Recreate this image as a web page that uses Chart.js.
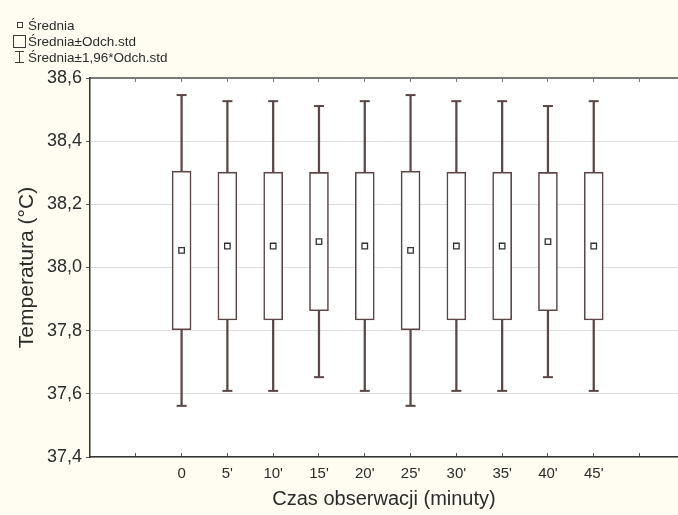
<!DOCTYPE html>
<html lang="pl">
<head>
<meta charset="utf-8">
<title>Temperatura a czas obserwacji</title>
<script src="https://cdn.jsdelivr.net/npm/chart.js@4.4.1/dist/chart.umd.min.js"></script>
<style>
    html, body { margin: 0; padding: 0; background: #fffcf2; }
    canvas { display: block; }
</style>
</head>
<body>
<canvas id="chartTemp" width="678" height="515"></canvas>
<script>
// Czas obserwacji (kategorie osi X)
var categories = ['0', "5'", "10'", "15'", "20'", "25'", "30'", "35'", "40'", "45'"];
// Srednia temperatura i odchylenie standardowe dla kazdego pomiaru
var means = [38.054, 38.068, 38.068, 38.082, 38.068, 38.054, 38.068, 38.068, 38.082, 38.068];
var stdDevs = [0.251, 0.234, 0.234, 0.219, 0.234, 0.251, 0.234, 0.234, 0.219, 0.234];
var whiskerFactor = 1.96;
// Podzialka osi
var yTickValues = [37.4, 37.6, 37.8, 38.0, 38.2, 38.4, 38.6];
var xTickValues = [-1, 0, 1, 2, 3, 4, 5, 6, 7, 8, 9, 10];

var TEXT = '#2b2b2b';
var BOX = '#5c4646';
var FONT = '"Liberation Sans", Arial, sans-serif';

(function () {
    var el = document.getElementById('chartTemp');

    var boxData = [];
    var whiskerData = [];
    var capData = [];
    var meanData = [];
    for (var i = 0; i < categories.length; i++) {
        var m = means[i], s = stdDevs[i];
        boxData.push({ x: i, y: [m - s, m + s] });
        whiskerData.push({ x: i, y: [m - whiskerFactor * s, m + whiskerFactor * s] });
        capData.push({ x: i, y: m - whiskerFactor * s });
        capData.push({ x: i, y: m + whiskerFactor * s });
        meanData.push({ x: i, y: m });
    }

    // tlo wykresu + legenda w lewym gornym rogu
    var framePlugin = {
        id: 'frame',
        beforeDraw: function (chart) {
            var ctx = chart.ctx, a = chart.chartArea;
            ctx.save();
            ctx.fillStyle = '#fffcf2';
            ctx.fillRect(0, 0, chart.width, chart.height);
            ctx.fillStyle = '#ffffff';
            ctx.fillRect(a.left, a.top, a.right - a.left, a.bottom - a.top);
            ctx.restore();
        },
        afterDraw: function (chart) {
            var ctx = chart.ctx;
            ctx.save();
            ctx.strokeStyle = '#3a3a3a';
            ctx.lineWidth = 1;
            ctx.fillStyle = TEXT;
            ctx.font = '13.5px ' + FONT;
            ctx.textBaseline = 'alphabetic';

            ctx.strokeRect(17.5, 22.5, 5, 5);
            ctx.fillText('Średnia', 28, 30);

            ctx.strokeRect(13.5, 35.5, 12, 12);
            ctx.fillText('Średnia±Odch.std', 28, 46);

            ctx.beginPath();
            ctx.moveTo(19.5, 51); ctx.lineTo(19.5, 63);
            ctx.moveTo(15, 51.5); ctx.lineTo(24, 51.5);
            ctx.moveTo(15, 62.5); ctx.lineTo(24, 62.5);
            ctx.stroke();
            ctx.fillText('Średnia±1,96*Odch.std', 28, 62);
            ctx.restore();
        }
    };

    function setXTicks(axis) {
        axis.ticks = xTickValues.map(function (v) { return { value: v }; });
    }

    function noSidePadding(axis) {
        axis.paddingLeft = 0;
        axis.paddingRight = 0;
    }

    new Chart(el, {
        data: {
            datasets: [{
                type: 'scatter',
                label: 'Średnia',
                data: meanData,
                pointStyle: 'rect',
                pointRadius: 3.9,
                pointHoverRadius: 3.9,
                pointBackgroundColor: '#ffffff',
                pointBorderColor: '#333333',
                pointBorderWidth: 1.3,
                order: 0
            }, {
                type: 'scatter',
                label: 'caps',
                data: capData,
                pointStyle: 'line',
                pointRadius: 5,
                pointHoverRadius: 5,
                pointBorderColor: BOX,
                pointBorderWidth: 2,
                order: 1
            }, {
                type: 'bar',
                label: 'Średnia±Odch.std',
                data: boxData,
                grouped: false,
                barThickness: 19,
                backgroundColor: '#ffffff',
                borderColor: BOX,
                borderWidth: 1.6,
                borderSkipped: false,
                order: 2
            }, {
                type: 'bar',
                label: 'Średnia±1,96*Odch.std',
                data: whiskerData,
                grouped: false,
                barThickness: 1.6,
                backgroundColor: BOX,
                borderWidth: 0,
                order: 3
            }]
        },
        options: {
            responsive: false,
            animation: false,
            layout: { autoPadding: false, padding: { top: 78, left: 0, right: 0, bottom: 0 } },
            plugins: {
                legend: { display: false },
                tooltip: { enabled: false }
            },
            scales: {
                x: {
                    type: 'linear',
                    position: 'bottom',
                    offset: false,
                    min: -2,
                    max: 10.84,
                    afterBuildTicks: setXTicks,
                    afterFit: function (axis) { axis.height = 58; noSidePadding(axis); },
                    ticks: {
                        callback: function (v) { return categories[v] || ''; },
                        autoSkip: false,
                        maxRotation: 0,
                        padding: 12,
                        color: TEXT,
                        font: { family: FONT, size: 15 }
                    },
                    grid: { offset: false, drawOnChartArea: false, tickLength: -4, tickColor: '#555555' },
                    border: { color: '#333333', width: 1.5 },
                    title: {
                        display: true,
                        text: 'Czas obserwacji (minuty)',
                        color: TEXT,
                        font: { family: FONT, size: 20 },
                        padding: { top: 0, bottom: 4 }
                    }
                },
                xTop: {
                    type: 'linear',
                    position: 'top',
                    offset: false,
                    min: -2,
                    max: 10.84,
                    afterBuildTicks: setXTicks,
                    afterFit: function (axis) { axis.height = 0; noSidePadding(axis); },
                    ticks: { display: false },
                    grid: { offset: false, drawOnChartArea: false, tickLength: -4, tickColor: '#777777' },
                    border: { color: '#7a7a7a', width: 2 }
                },
                y: {
                    min: 37.4,
                    max: 38.6,
                    afterBuildTicks: function (axis) {
                        axis.ticks = yTickValues.map(function (v) { return { value: v }; });
                    },
                    afterFit: function (axis) { axis.width = 90; },
                    ticks: {
                        callback: function (v) { return v.toFixed(1).replace('.', ','); },
                        padding: 4,
                        color: TEXT,
                        font: { family: FONT, size: 18 }
                    },
                    grid: { color: '#dcdcdc', tickColor: '#555555', tickLength: 4 },
                    border: { color: '#333333', width: 1.5 },
                    title: {
                        display: true,
                        text: 'Temperatura (°C)',
                        color: TEXT,
                        font: { family: FONT, size: 21 },
                        padding: { top: 15, bottom: 0 }
                    }
                }
            }
        },
        plugins: [framePlugin]
    });
})();
</script>
</body>
</html>
